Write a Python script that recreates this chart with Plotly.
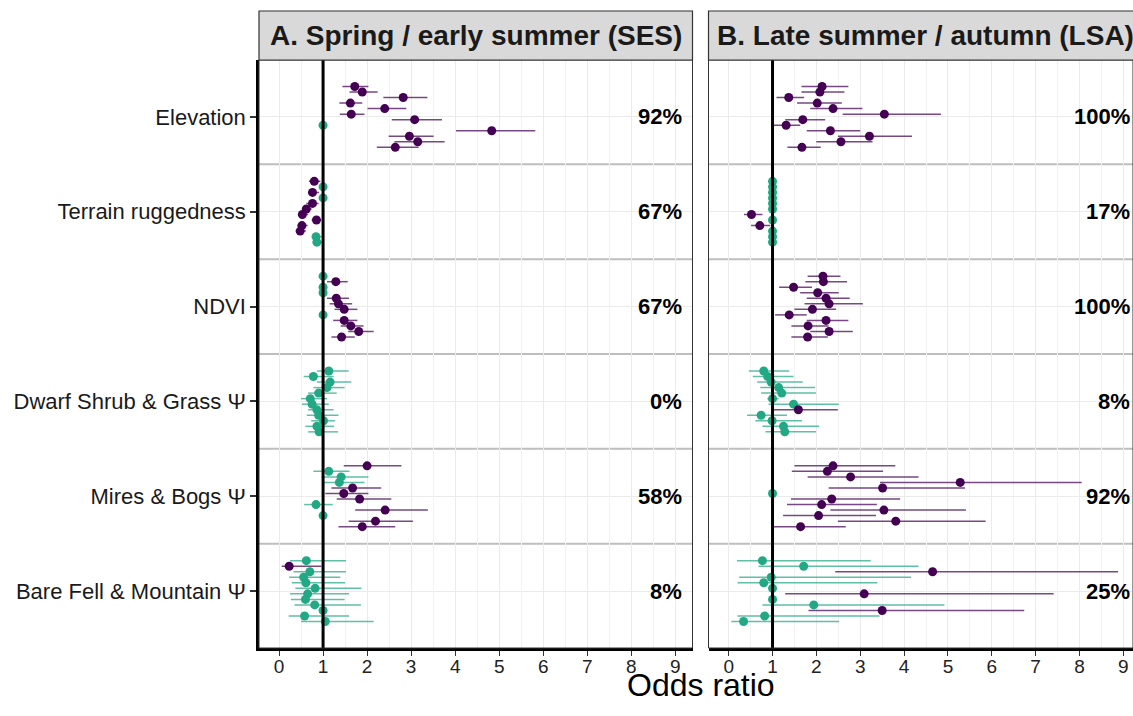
import plotly.graph_objects as go

# ---------------- data ----------------
covariates = ["Elevation", "Terrain ruggedness", "NDVI",
              "Dwarf Shrub & Grass Ψ", "Mires & Bogs Ψ", "Bare Fell & Mountain Ψ"]
seasons = ["A. Spring / early summer (SES)", "B. Late summer / autumn (LSA)"]
x_ticks = [0, 1, 2, 3, 4, 5, 6, 7, 8, 9]
ref_value = 1

# Spring / early summer (12 individuals per covariate, top to bottom)
ses_elev_or = [1.72, 1.89, 2.82, 1.62, 2.40, 1.64, 3.08, 1.00, 4.83, 2.96, 3.15, 2.64]
ses_elev_lo = [1.44, 1.60, 2.37, 1.37, 2.01, 1.38, 2.56, 0.99, 4.02, 2.49, 2.62, 2.22]
ses_elev_hi = [2.03, 2.24, 3.37, 1.89, 2.89, 1.94, 3.70, 1.01, 5.82, 3.51, 3.76, 3.17]

ses_terr_or = [0.80, 1.00, 0.76, 1.00, 0.76, 0.62, 0.53, 0.85, 0.52, 0.48, 0.84, 0.86]
ses_terr_lo = [0.68, 0.99, 0.66, 0.99, 0.62, 0.52, 0.44, 0.74, 0.42, 0.38, 0.76, 0.78]
ses_terr_hi = [0.94, 1.01, 0.91, 1.01, 0.90, 0.74, 0.66, 0.96, 0.65, 0.61, 1.01, 1.02]

ses_ndvi_or = [1.00, 1.29, 1.00, 1.00, 1.30, 1.35, 1.48, 1.00, 1.48, 1.63, 1.81, 1.42]
ses_ndvi_lo = [0.99, 1.09, 0.99, 0.99, 1.09, 1.15, 1.26, 0.99, 1.23, 1.40, 1.57, 1.19]
ses_ndvi_hi = [1.01, 1.56, 1.01, 1.01, 1.59, 1.66, 1.78, 1.01, 1.78, 1.92, 2.15, 1.72]

ses_dwarf_or = [1.13, 0.78, 1.16, 1.09, 0.90, 0.71, 0.75, 0.86, 0.90, 1.01, 0.86, 0.91]
ses_dwarf_lo = [0.86, 0.56, 0.86, 0.78, 0.66, 0.50, 0.52, 0.66, 0.63, 0.73, 0.60, 0.66]
ses_dwarf_hi = [1.58, 1.24, 1.64, 1.49, 1.31, 1.09, 1.13, 1.24, 1.35, 1.27, 1.25, 1.34]

ses_mires_or = [2.00, 1.13, 1.41, 1.37, 1.67, 1.47, 1.83, 0.84, 2.41, 1.00, 2.19, 1.89]
ses_mires_lo = [1.47, 0.78, 0.97, 0.98, 1.19, 1.05, 1.31, 0.57, 1.73, 0.99, 1.58, 1.35]
ses_mires_hi = [2.78, 1.60, 2.03, 1.94, 2.32, 2.03, 2.55, 1.22, 3.38, 1.01, 3.04, 2.64]

ses_bare_or = [0.62, 0.23, 0.70, 0.56, 0.61, 0.82, 0.65, 0.60, 0.81, 1.00, 0.58, 1.05]
ses_bare_lo = [0.25, 0.06, 0.33, 0.23, 0.29, 0.37, 0.25, 0.27, 0.35, 0.99, 0.22, 0.50]
ses_bare_hi = [1.52, 0.96, 1.52, 1.39, 1.50, 1.87, 1.59, 1.49, 1.86, 1.01, 1.59, 2.15]

# Late summer / autumn
lsa_elev_or = [2.13, 2.08, 1.37, 2.02, 2.38, 3.55, 1.69, 1.31, 2.32, 3.21, 2.56, 1.67]
lsa_elev_lo = [1.66, 1.66, 1.09, 1.56, 1.86, 2.60, 1.29, 1.03, 1.78, 2.49, 2.00, 1.34]
lsa_elev_hi = [2.73, 2.64, 1.72, 2.58, 3.05, 4.84, 2.20, 1.63, 3.00, 4.18, 3.28, 2.10]

lsa_terr_or = [1.00, 1.00, 1.00, 1.00, 1.00, 1.00, 0.52, 1.00, 0.71, 1.00, 1.00, 1.00]
lsa_terr_lo = [0.99, 0.99, 0.99, 0.99, 0.99, 0.99, 0.35, 0.99, 0.51, 0.99, 0.99, 0.99]
lsa_terr_hi = [1.01, 1.01, 1.01, 1.01, 1.01, 1.01, 0.77, 1.01, 0.95, 1.01, 1.01, 1.01]

lsa_ndvi_or = [2.15, 2.16, 1.48, 2.03, 2.22, 2.29, 1.91, 1.38, 2.22, 1.81, 2.29, 1.80]
lsa_ndvi_lo = [1.80, 1.75, 1.15, 1.63, 1.78, 1.73, 1.50, 1.06, 1.78, 1.43, 1.86, 1.43]
lsa_ndvi_hi = [2.55, 2.70, 1.90, 2.51, 2.76, 3.06, 2.45, 1.78, 2.73, 2.28, 2.83, 2.26]

lsa_dwarf_or = [0.80, 0.89, 0.97, 1.14, 1.21, 1.00, 1.48, 1.59, 0.74, 0.99, 1.25, 1.28]
lsa_dwarf_lo = [0.46, 0.55, 0.65, 0.72, 0.74, 0.88, 0.91, 1.03, 0.42, 0.61, 0.77, 0.84]
lsa_dwarf_hi = [1.38, 1.48, 1.69, 1.97, 1.99, 1.14, 2.51, 2.49, 1.33, 1.67, 2.06, 1.99]

lsa_mires_or = [2.38, 2.25, 2.78, 5.28, 3.51, 1.00, 2.35, 2.12, 3.54, 2.05, 3.81, 1.64]
lsa_mires_lo = [1.50, 1.44, 1.80, 3.45, 2.28, 0.99, 1.42, 1.33, 2.32, 1.24, 2.49, 1.03]
lsa_mires_hi = [3.80, 3.52, 4.33, 8.05, 5.39, 1.01, 3.91, 3.38, 5.41, 3.36, 5.86, 2.67]

lsa_bare_or = [0.77, 1.71, 4.65, 0.97, 0.80, 1.00, 3.09, 1.00, 1.94, 3.50, 0.82, 0.34]
lsa_bare_lo = [0.19, 0.68, 2.43, 0.24, 0.20, 0.99, 1.29, 0.99, 0.77, 1.82, 0.20, 0.06]
lsa_bare_hi = [3.24, 4.33, 8.88, 4.16, 3.39, 1.01, 7.41, 1.01, 4.92, 6.74, 3.44, 2.52]

panels = [
    [(ses_elev_or, ses_elev_lo, ses_elev_hi), (ses_terr_or, ses_terr_lo, ses_terr_hi),
     (ses_ndvi_or, ses_ndvi_lo, ses_ndvi_hi), (ses_dwarf_or, ses_dwarf_lo, ses_dwarf_hi),
     (ses_mires_or, ses_mires_lo, ses_mires_hi), (ses_bare_or, ses_bare_lo, ses_bare_hi)],
    [(lsa_elev_or, lsa_elev_lo, lsa_elev_hi), (lsa_terr_or, lsa_terr_lo, lsa_terr_hi),
     (lsa_ndvi_or, lsa_ndvi_lo, lsa_ndvi_hi), (lsa_dwarf_or, lsa_dwarf_lo, lsa_dwarf_hi),
     (lsa_mires_or, lsa_mires_lo, lsa_mires_hi), (lsa_bare_or, lsa_bare_lo, lsa_bare_hi)],
]

# ---------------- style ----------------
W, H = 1133, 716
PURPLE = "#440154"
TEAL = "#22A884"
PURPLE_L = "rgba(68,1,84,0.72)"
TEAL_L = "rgba(34,168,132,0.72)"
FONT = "Liberation Sans, Arial, Helvetica, sans-serif"
n_cov = len(covariates)
dodge = 0.7


def px(xp):   # page pixel x -> paper fraction
    return xp / W


def py(yp):   # page pixel y -> paper fraction
    return 1 - yp / H


ydom = [py(648), py(60)]
xdoms = [[px(259), px(692.5)], [px(708.5), 1.0]]
xranges = [[-0.455, 9.39], [-0.46, 9.22]]

fig = go.Figure()
annotations = []
shapes = []

for p, covdata in enumerate(panels):
    xa = "x" if p == 0 else "x2"
    ya = "y" if p == 0 else "y2"
    groups = {True: dict(x=[], y=[], ep=[], em=[]), False: dict(x=[], y=[], ep=[], em=[])}
    for k, (orv, lov, hiv) in enumerate(covdata):
        base = n_cov - k
        n = len(orv)
        nsig = 0
        for i in range(n):
            sig = lov[i] > ref_value or hiv[i] < ref_value
            nsig += sig
            g = groups[sig]
            g["x"].append(orv[i])
            g["y"].append(base + ((n - 1) / 2 - i) * dodge / n)
            g["ep"].append(hiv[i] - orv[i])
            g["em"].append(orv[i] - lov[i])
        annotations.append(dict(
            x=9.2, y=base, xref=xa, yref=ya, xanchor="right", yanchor="middle",
            text="<b>%d%%</b>" % round(100 * nsig / n), showarrow=False,
            font=dict(family=FONT, size=22, color="#000000")))
    for sig in (False, True):
        g = groups[sig]
        fig.add_trace(go.Scatter(
            x=g["x"], y=g["y"], xaxis=xa, yaxis=ya, mode="markers",
            marker=dict(color=PURPLE if sig else TEAL, size=9, line=dict(width=0)),
            error_x=dict(type="data", symmetric=False, array=g["ep"], arrayminus=g["em"],
                         color=PURPLE_L if sig else TEAL_L, thickness=1.5, width=0),
            showlegend=False, hoverinfo="x"))

    dom = "x domain" if p == 0 else "x2 domain"
    ydomref = "y domain" if p == 0 else "y2 domain"
    # separators between covariate rows
    for b in range(1, n_cov):
        shapes.append(dict(type="line", xref=dom, yref=ya, x0=0, x1=1, y0=b + 0.5, y1=b + 0.5,
                           line=dict(color="#BEBEBE", width=2), layer="below"))
    # reference line
    shapes.append(dict(type="line", xref=xa, yref=ydomref, x0=ref_value, x1=ref_value, y0=0, y1=1,
                       line=dict(color="#000000", width=3), layer="above"))
    # panel border
    shapes.append(dict(type="rect", xref=dom, yref=ydomref, x0=0, x1=1, y0=0, y1=1,
                       line=dict(color="#333333", width=1), layer="above"))
    # strip
    sx0 = xdoms[p][0]
    sx1 = xdoms[p][0] + (xdoms[0][1] - xdoms[0][0])
    shapes.append(dict(type="rect", xref="paper", yref="paper", x0=sx0, x1=sx1,
                       y0=py(60), y1=py(11), fillcolor="#D9D9D9",
                       line=dict(color="#333333", width=1.2), layer="above"))
    annotations.append(dict(x=(sx0 + sx1) / 2, y=py(35.5), xref="paper", yref="paper",
                            text="<b>%s</b>" % seasons[p], showarrow=False,
                            xanchor="center", yanchor="middle",
                            font=dict(family=FONT, size=28, color="#1A1A1A")))

annotations.append(dict(x=px(701), y=py(685), xref="paper", yref="paper", text="Odds ratio",
                        showarrow=False, xanchor="center", yanchor="middle",
                        font=dict(family=FONT, size=32, color="#000000")))

xcommon = dict(tickvals=x_ticks, ticks="outside", ticklen=5, tickwidth=1.3, tickcolor="#333333",
               showgrid=True, gridcolor="#EBEBEB", gridwidth=1.3,
               minor=dict(dtick=0.5, tick0=0, showgrid=True, gridcolor="#F2F2F2", gridwidth=0.8),
               showline=True, linecolor="#000000", linewidth=2.5, zeroline=False,
               tickfont=dict(family=FONT, size=19, color="#222222"), fixedrange=True,
               ticklabelstandoff=-6, automargin=False)
ycommon = dict(range=[0.4, n_cov + 0.6], tickvals=list(range(1, n_cov + 1)),
               showgrid=True, gridcolor="#EBEBEB", gridwidth=1.3, zeroline=False,
               domain=ydom, fixedrange=True, automargin=False)

fig.update_layout(
    width=W, height=H, margin=dict(l=0, r=0, t=0, b=0, autoexpand=False),
    paper_bgcolor="white", plot_bgcolor="white",
    xaxis=dict(domain=xdoms[0], range=xranges[0], anchor="y", **xcommon),
    xaxis2=dict(domain=xdoms[1], range=xranges[1], anchor="y2", **xcommon),
    yaxis=dict(anchor="x", ticktext=covariates[::-1], ticks="outside", ticklen=6, tickwidth=1.5,
               tickcolor="#333333", showline=True, linecolor="#000000", linewidth=2.5,
               tickfont=dict(family=FONT, size=22, color="#1A1A1A"), **ycommon),
    yaxis2=dict(anchor="x2", showticklabels=False, ticks="", showline=False, **ycommon),
    shapes=shapes, annotations=annotations, showlegend=False,
)

fig.write_html("out.html", config={"displayModeBar": False},
               post_script="document.body.style.margin='0';document.body.style.overflow='hidden';")
